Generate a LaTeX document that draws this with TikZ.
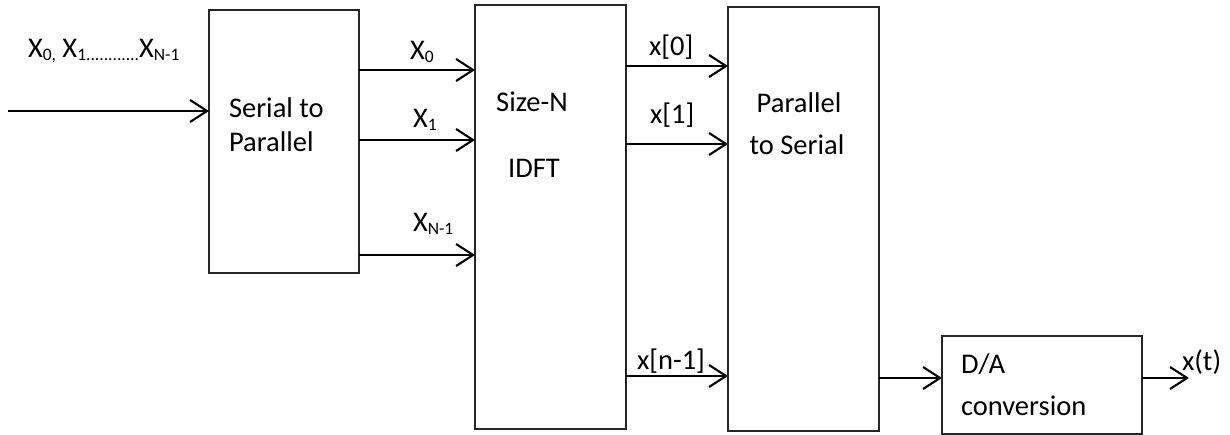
\documentclass[tikz,border=0pt]{standalone}
\usepackage{fontspec}
\setmainfont{Carlito}
\usetikzlibrary{arrows.meta}
% subscript in the text font, scaled down and lowered slightly
\newcommand\subs[1]{\raisebox{-2.5pt}{\fontsize{17.5}{18}\selectfont #1}}
\tikzset{
  block/.style={draw=black!85, line width=1.3pt, inner sep=0pt, outer sep=0pt},
  arr/.style={line width=2.1pt, -{Straight Barb[length=17pt,width=22pt]}},
  txt/.style={inner sep=0pt, outer sep=0pt, font=\fontsize{28.5}{34}\selectfont},
}
\begin{document}
\begin{tikzpicture}[x=1pt, y=-1pt]
\useasboundingbox (0,0) rectangle (1230,435);

% blocks
\node[block, minimum width=150pt, minimum height=263pt] (sp)   at (284,141.5) {};
\node[block, minimum width=151pt, minimum height=424pt] (idft) at (550.5,217) {};
\node[block, minimum width=151pt, minimum height=424pt] (ps)   at (803.5,219) {};
\node[block, minimum width=200pt, minimum height=98pt]  (da)   at (1042,385) {};

% block texts
\node[txt, anchor=base west] (sp1) at (229,118) {Serial to};
\node[txt, anchor=base west] (sp2) at (229,152) {Parallel};
\node[txt, anchor=base] (id1) at (532,112) {Size-N};
\node[txt, anchor=base] (id2) at (534,178) {IDFT};
\node[txt, anchor=base] (ps1) at (799,113) {Parallel};
\node[txt, anchor=base] (ps2) at (797,155) {to Serial};
\node[txt, anchor=base west] (da1) at (961,373) {D/A};
\node[txt, anchor=base west] (da2) at (961,415) {conversion};

% signal labels
\node[txt, anchor=base west] (lin)  at (28,58)   {X\subs{0,} X\subs{1............}X\subs{N-1}};
\node[txt, anchor=base west] (lx0)  at (410,60)  {X\subs{0}};
\node[txt, anchor=base west] (lx1)  at (413,128) {X\subs{1}};
\node[txt, anchor=base west] (lxn)  at (413,232) {X\subs{N-1}};
\node[txt, anchor=base west] (ly0)  at (649,56)  {x[0]};
\node[txt, anchor=base west] (ly1)  at (650,124) {x[1]};
\node[txt, anchor=base west] (lyn)  at (637,369) {x[n-1]};
\node[txt, anchor=base west] (lout) at (1182,370) {x(t)};

% free ends and signal levels
\coordinate (src) at (8,111);
\coordinate (snk) at (1189,378);

% connectors
\draw[arr] (src) -- (src -| sp.west);
\draw[arr] ([yshift=-60pt]sp.north east)  -- ([yshift=-60pt]sp.north east -| idft.west);
\draw[arr] ([yshift=-130pt]sp.north east) -- ([yshift=-130pt]sp.north east -| idft.west);
\draw[arr] ([yshift=-245pt]sp.north east) -- ([yshift=-245pt]sp.north east -| idft.west);
\draw[arr] ([yshift=-61pt]idft.north east)  -- ([yshift=-61pt]idft.north east -| ps.west);
\draw[arr] ([yshift=-139pt]idft.north east) -- ([yshift=-139pt]idft.north east -| ps.west);
\draw[arr] ([yshift=-371pt]idft.north east) -- ([yshift=-371pt]idft.north east -| ps.west);
\draw[arr] (snk -| ps.east) -- (snk -| da.west);
\draw[arr] (snk -| da.east) -- (snk);
\end{tikzpicture}
\end{document}
